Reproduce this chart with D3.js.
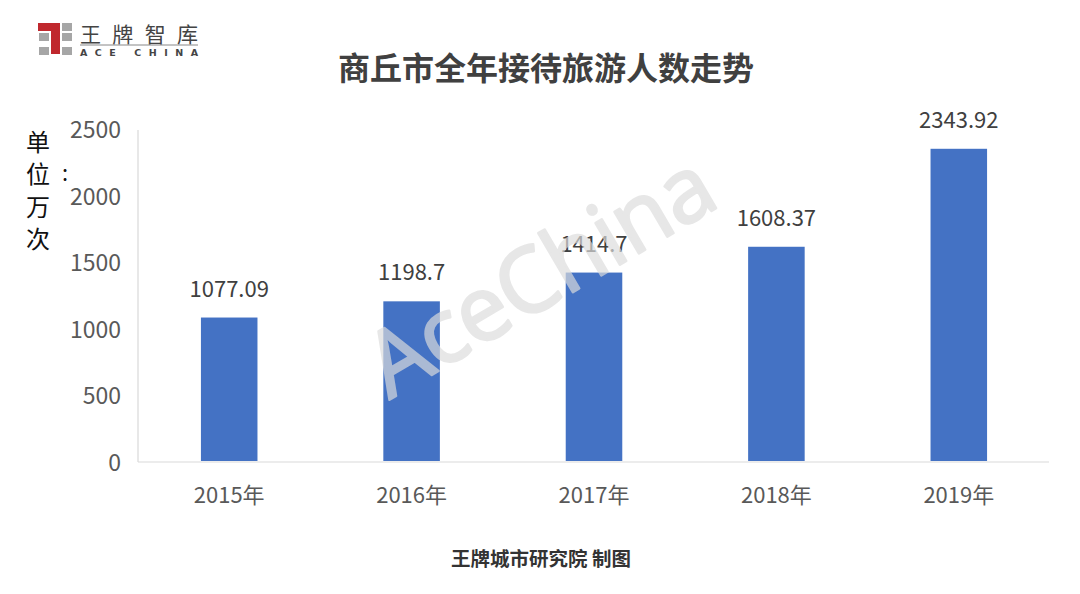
<!DOCTYPE html>
<html><head><meta charset="utf-8">
<script src="https://cdn.jsdelivr.net/npm/d3@7/dist/d3.min.js"></script>
<style>body{margin:0;background:#fff}svg{display:block}</style>
</head><body>
<svg id="c" width="1080" height="594"></svg>
<script>
const categories = ["2015年","2016年","2017年","2018年","2019年"];
const values = [1077.09, 1198.7, 1414.7, 1608.37, 2343.92];
const valueLabels = ["1077.09","1198.7","1414.7","1608.37","2343.92"];
const yTicks = [0, 500, 1000, 1500, 2000, 2500];

const svg = d3.select("#c");
const font = "'Microsoft YaHei','Noto Sans CJK SC','Noto Sans',sans-serif";
const x = d3.scaleBand().domain(categories).range([138, 1050]).paddingInner(0.69).paddingOuter(0.345);
const y = d3.scaleLinear().domain([0, 2500]).range([461, 128]);

// axes lines
svg.append("line").attr("x1",138).attr("x2",138).attr("y1",130).attr("y2",462).attr("stroke","#d9d9d9").attr("stroke-width",1.2);
svg.append("line").attr("x1",138).attr("x2",1049).attr("y1",462).attr("y2",462).attr("stroke","#d9d9d9").attr("stroke-width",1.2);

// y tick labels
svg.selectAll(".yt").data(yTicks).enter().append("text")
  .attr("x",121).attr("y",d=>y(d)).attr("text-anchor","end").attr("dominant-baseline","central")
  .style("font-family",font).style("font-size","23px").attr("fill","#595959").text(d=>d);

// bars
svg.selectAll(".bar").data(values).enter().append("rect")
  .attr("x",(d,i)=>x(categories[i])).attr("width",x.bandwidth())
  .attr("y",d=>y(d)).attr("height",d=>y(0)-y(d)).attr("fill","#4472C4");

// value labels
svg.selectAll(".vl").data(values).enter().append("text")
  .attr("x",(d,i)=>x(categories[i])+x.bandwidth()/2).attr("y",d=>y(d)-21)
  .attr("text-anchor","middle").style("font-family",font).style("font-size","22px")
  .attr("fill","#404040").text((d,i)=>valueLabels[i]);

// x labels
svg.selectAll(".xl").data(categories).enter().append("text")
  .attr("x",d=>x(d)+x.bandwidth()/2).attr("y",493).attr("text-anchor","middle").attr("dominant-baseline","central")
  .style("font-family",font).style("font-size","22px").attr("fill","#595959").text(d=>d);

// watermark (on top)
svg.append("g").attr("opacity",0.68).append("text").attr("transform","translate(556,302) rotate(-30.4)")
  .attr("text-anchor","middle")
  .style("font-family","'Open Sans',sans-serif").style("font-size","90px").style("font-weight","400")
  .attr("fill","#dcdcdc").attr("stroke","#dcdcdc").attr("stroke-width",2.5).attr("stroke-linejoin","round")
  .attr("textLength",386).text("AceChina");

// unit label
const unit = ["单","位","万","次"];
svg.selectAll(".un").data(unit).enter().append("text")
  .attr("x",38).attr("y",(d,i)=>140+i*32.5).attr("text-anchor","middle").attr("dominant-baseline","central")
  .style("font-family",font).style("font-size","24px").attr("fill","#111").text(d=>d);
svg.append("text").attr("x",65).attr("y",171).attr("text-anchor","middle").attr("dominant-baseline","central")
  .style("font-family",font).style("font-size","22px").attr("fill","#111").text(":");

// title
svg.append("text").attr("x",546).attr("y",66).attr("text-anchor","middle").attr("dominant-baseline","central")
  .style("font-family",font).style("font-size","32px").style("font-weight","bold").attr("fill","#404040")
  .text("商丘市全年接待旅游人数走势");

// footer
svg.append("text").attr("x",541).attr("y",557).attr("text-anchor","middle").attr("dominant-baseline","central")
  .style("font-family",font).style("font-size","19.5px").style("font-weight","bold").attr("fill","#333")
  .text("王牌城市研究院 制图");

// logo
const lg = svg.append("g");
[[39,33],[39,47],[62,23],[62,33],[62,47]].forEach(p=>{
  lg.append("rect").attr("x",p[0]).attr("y",p[1]).attr("width",10).attr("height",8).attr("fill","#a6a6a6");
});
lg.append("path").attr("d","M38 23 L60 23 L60 54 L51 54 L51 31 L38 31 Z").attr("fill","#c0282e");
lg.append("text").attr("x",80).attr("y",33).attr("dominant-baseline","central")
  .style("font-family",font).style("font-size","21px").attr("fill","#444").attr("textLength",118).text("王牌智库");
lg.append("line").attr("x1",80).attr("x2",198).attr("y1",45).attr("y2",45).attr("stroke","#888").attr("stroke-width",1);
lg.append("text").attr("x",80).attr("y",52).attr("dominant-baseline","central")
  .style("font-family","'DejaVu Sans',sans-serif").style("font-size","9.5px").style("font-weight","bold").attr("fill","#444")
  .attr("textLength",118).text("ACE CHINA");
</script>
</body></html>
